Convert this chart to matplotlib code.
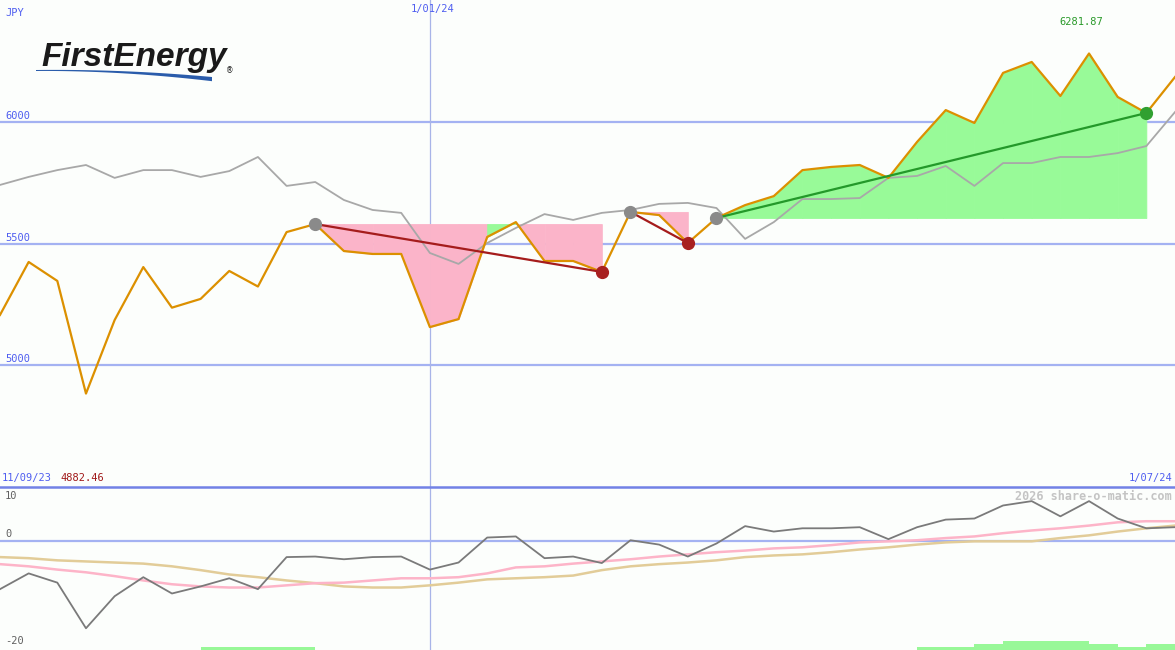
import matplotlib
matplotlib.use('Agg')
import matplotlib.pyplot as plt
from matplotlib.patches import Polygon
import numpy as np
import pandas as pd

# weekly closes, 18 Sep 2023 .. 1 Jul 2024
dates = pd.date_range('2023-09-18', periods=42, freq='7D')

price = [5206, 5424, 5346, 4882.46, 5185, 5403, 5236, 5272, 5387, 5323,
         5547, 5580, 5469, 5457, 5457, 5156, 5189, 5527, 5588, 5428,
         5428, 5383, 5630, 5617, 5502, 5605, 5658, 5695, 5802, 5815,
         5823, 5770, 5918, 6049, 5996, 6202, 6247, 6107, 6281.87, 6103,
         6037, 6185]

avg = [5741, 5774, 5802, 5823, 5770, 5802, 5802, 5774, 5798, 5856,
       5737, 5753, 5679, 5638, 5626, 5461, 5416, 5502, 5564, 5621,
       5597, 5626, 5638, 5663, 5667, 5646, 5519, 5588, 5683, 5683,
       5687, 5770, 5778, 5819, 5737, 5831, 5831, 5856, 5856, 5872,
       5901, 6041]

osc = [-8.8, -5.9, -7.6, -16.0, -10.1, -6.6, -9.6, -8.3, -6.8, -8.8,
       -2.9, -2.8, -3.3, -2.9, -2.8, -5.2, -3.9, 0.7, 0.9, -3.1,
       -2.8, -4.0, 0.2, -0.6, -2.8, -0.4, 2.8, 1.8, 2.4, 2.4,
       2.6, 0.4, 2.6, 4.0, 4.2, 6.6, 7.4, 4.6, 7.4, 4.2,
       2.4, 2.6]

osc_fast = [-4.2, -4.6, -5.2, -5.7, -6.4, -7.2, -7.9, -8.3, -8.5, -8.5,
            -8.1, -7.7, -7.6, -7.2, -6.8, -6.8, -6.6, -5.9, -4.8, -4.6,
            -4.1, -3.7, -3.3, -2.8, -2.4, -2.0, -1.7, -1.3, -1.1, -0.7,
            -0.2, 0.0, 0.2, 0.6, 0.9, 1.5, 2.0, 2.4, 2.9, 3.5,
            3.7, 3.7]

osc_slow = [-2.9, -3.1, -3.5, -3.7, -3.9, -4.1, -4.6, -5.3, -6.1, -6.6,
            -7.2, -7.7, -8.3, -8.5, -8.5, -8.1, -7.6, -7.0, -6.8, -6.6,
            -6.3, -5.3, -4.6, -4.2, -3.9, -3.5, -2.9, -2.6, -2.4, -2.0,
            -1.5, -1.1, -0.6, -0.2, 0.0, 0.0, 0.0, 0.6, 1.1, 1.8,
            2.4, 2.9]

signal = [0, 0, 0, 0, 0, 0, 0, 1, 1, 1, 1, 0, 0, 0, 0, 0, 0, 0, 0, 0,
          0, 0, 0, 0, 0, 0, 0, 0, 0, 0, 0, 0, 1, 1, 2, 3, 3, 3, 2, 1, 2]

trends = [(11, 21), (22, 24), (25, 40)]
price_levels = [5000, 5500, 6000]

BG = '#fcfefc'
GRID = '#a4b2f2'
LABEL = '#4f5ef0'
ORANGE = '#dc9000'
PINK = '#fbb4c9'
GREEN_FILL = '#98fa98'
DARK_RED = '#a51c1c'
DARK_GREEN = '#24992a'
MONO = 'DejaVu Sans Mono'

W, H = 1175, 650
fig = plt.figure(figsize=(W / 100, H / 100), dpi=100)
fig.patch.set_facecolor(BG)

split = 163 / H
ax = fig.add_axes([0, split, 1, 1 - split])
axb = fig.add_axes([0, 0, 1, split])
for a in (ax, axb):
    a.set_facecolor(BG)
    a.set_axis_off()
    a.set_xlim(dates[0], dates[-1])
ax.set_ylim(4498, 6502)
axb.set_ylim(-20, 10)

p = np.array(price)

# ---- top panel
for lv in price_levels:
    ax.axhline(lv, color=GRID, lw=1.6, zorder=1)
    ax.annotate(str(lv), xy=(0, lv), xycoords=('axes fraction', 'data'),
                xytext=(5, 6), textcoords='offset pixels', fontsize=7.5,
                family=MONO, color=LABEL, va='center', ha='left')

new_year = pd.Timestamp('2024-01-01')
ax.axvline(new_year, color='#a8b4e8', lw=0.9, zorder=1)
axb.axvline(new_year, color='#a8b4e8', lw=0.9, zorder=1)

# shaded runs from each trend start level
for s, e in trends:
    level = p[s]
    for i in range(s, e):
        col = GREEN_FILL if p[i + 1] > level else PINK
        ax.fill_between(dates[i:i + 2], level, p[i:i + 2], facecolor=col,
                        edgecolor=col, lw=0.6, zorder=2)

ax.plot(dates, avg, color='#a8a8a8', lw=1.3, zorder=3)
ax.plot(dates, price, color=ORANGE, lw=1.6, zorder=4)

for s, e in trends:
    col = DARK_RED if p[e] < p[s] else DARK_GREEN
    end_col = '#a82020' if p[e] < p[s] else '#30a030'
    ax.plot([dates[s], dates[e]], [p[s], p[e]], color=col, lw=1.6, zorder=5)
    ax.plot(dates[s], p[s], 'o', ms=8.5, color='#8a8a8a', zorder=6)
    ax.plot(dates[e], p[e], 'o', ms=8.5, color=end_col, zorder=6)

imax = int(np.argmax(p))
imin = int(np.argmin(p))
ax.annotate(f'{p[imax]:.2f}', xy=(dates[imax], 1), xycoords=('data', 'axes fraction'),
            xytext=(-8, -22), textcoords='offset pixels', fontsize=7.5,
            family=MONO, color='#2a9a2a', ha='center', va='center')
ax.text(5, 637, 'JPY', transform=None, fontsize=7.5, family=MONO,
        color=LABEL, va='center')
ax.annotate(new_year.strftime('%-m/%d/%y'), xy=(new_year, 1),
            xycoords=('data', 'axes fraction'), xytext=(3, -9),
            textcoords='offset pixels', fontsize=7.5, family=MONO,
            color=LABEL, ha='center', va='center')

start_lbl = (dates[0] - pd.Timedelta(days=7)).strftime('%d/%m/%y')
end_lbl = dates[-1].strftime('%-d/%m/%y')
fig.text(2 / W, 1 - 478 / H, start_lbl, fontsize=7.5, family=MONO,
         color=LABEL, va='center')
fig.text(60 / W, 1 - 478 / H, f'{p[imin]:.2f}', fontsize=7.5, family=MONO,
         color='#a01818', va='center')
fig.text(1172 / W, 1 - 478 / H, end_lbl, fontsize=7.5, family=MONO,
         color=LABEL, va='center', ha='right')

# ---- logo
fig.text(41 / W, 1 - 66 / H, 'FirstEnergy', fontsize=24, weight='bold',
         style='italic', family='Liberation Sans', color='#1a1a1a',
         va='baseline')
fig.text(226 / W, 1 - 73 / H, '®', fontsize=5.5, family='DejaVu Sans',
         color='#1a1a1a', va='baseline')
t = np.linspace(0, 1, 40)
sx = 36 + 176 * t
top_edge = 70 - 2 * t + 9 * t ** 2
bot_edge = top_edge + 1.0 + 3.2 * t ** 1.5
pts = np.concatenate([np.column_stack([sx, top_edge]),
                      np.column_stack([sx[::-1], bot_edge[::-1]])])
pts = np.column_stack([pts[:, 0] / W, 1 - pts[:, 1] / H])
fig.patches.append(Polygon(pts, closed=True, transform=fig.transFigure,
                           color='#2a5cab', lw=0))

# ---- bottom panel
axb.axhline(10, color='#7282e6', lw=1.8, clip_on=False, zorder=3)
axb.axhline(0, color=GRID, lw=1.6, zorder=1)
axb.bar(dates[:-1], np.array(signal) * 0.55, width=7, align='edge',
        bottom=-20, color='#98f898', lw=0, zorder=1)
axb.plot(dates, osc_slow, color='#e2cc98', lw=1.8, zorder=2)
axb.plot(dates, osc_fast, color='#fdb4c8', lw=1.8, zorder=2)
axb.plot(dates, osc, color='#7a7a7a', lw=1.3, zorder=3)

for val, dy in ((10, -9), (0, 7), (-20, 9)):
    axb.annotate(str(val), xy=(0, val), xycoords=('axes fraction', 'data'),
                 xytext=(5, dy), textcoords='offset pixels', fontsize=7.5,
                 family=MONO, color='#606060', va='center')

fig.text(1172 / W, 1 - 496 / H, '2026 share-o-matic.com', fontsize=8.5,
         family=MONO, weight='bold', color='#c4c4c4', ha='right', va='center')

fig.savefig('out.png', dpi=100, facecolor=BG)
